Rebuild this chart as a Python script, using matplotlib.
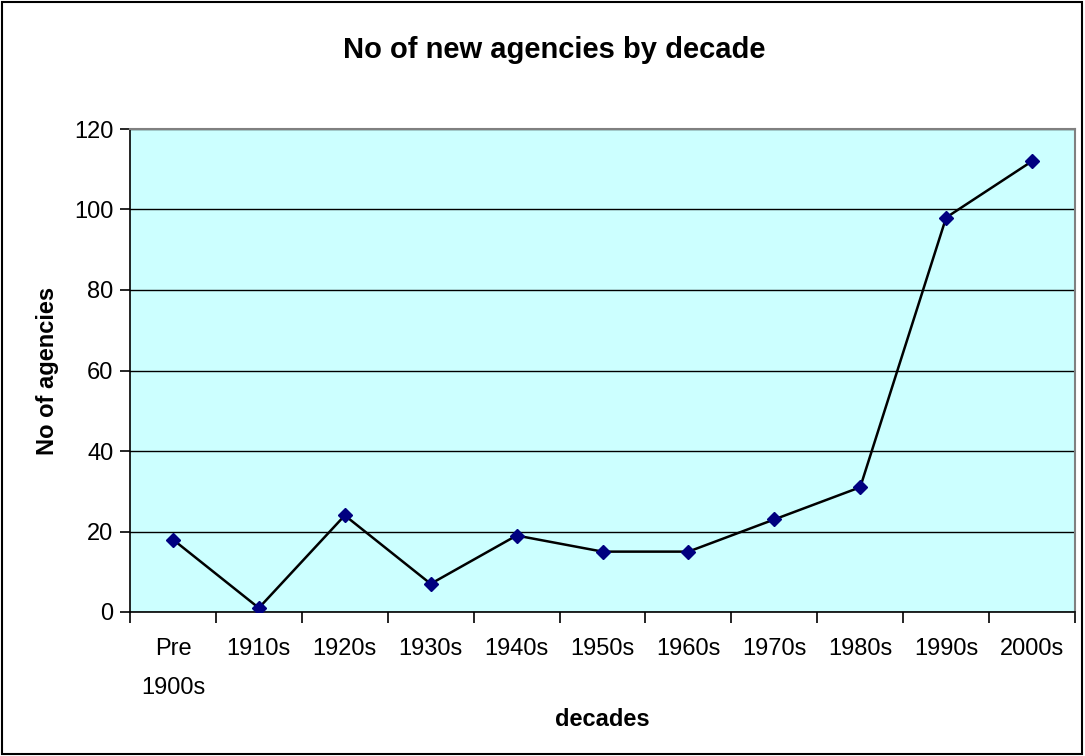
import matplotlib.pyplot as plt
import numpy as np

plt.rcParams['font.family'] = ['Liberation Sans', 'DejaVu Sans']

decades = ['Pre\n1900s', '1910s', '1920s', '1930s', '1940s', '1950s',
           '1960s', '1970s', '1980s', '1990s', '2000s']
agencies = [18, 1, 24, 7, 19, 15, 15, 23, 31, 98, 112]

fig = plt.figure(figsize=(10.85, 7.56), dpi=100)
ax = fig.add_axes([130 / 1085, 144 / 756, 945 / 1085, 483 / 756])
ax.set_facecolor('#CCFFFF')

x = np.arange(len(decades))
ax.plot(x, agencies, color='black', linewidth=1.8, zorder=3)
ax.plot(x, agencies, linestyle='none', marker='D', markersize=7.5,
        color='#000080', zorder=4)

ax.set_xlim(-0.5, len(decades) - 0.5)
ax.set_ylim(0, 120)
ax.set_yticks(np.arange(0, 121, 20))
ax.yaxis.grid(True, color='black', linewidth=1)
ax.set_axisbelow(True)

# category ticks between points, labels centred
ax.set_xticks(np.arange(-0.5, len(decades), 1))
ax.set_xticklabels([])
ax.set_xticks(x, minor=True)
ax.set_xticklabels(decades, minor=True, fontsize=17, linespacing=1.95)
ax.tick_params(axis='x', which='major', direction='out', length=8, width=1.2)
ax.tick_params(axis='x', which='minor', length=0, pad=19)
ax.tick_params(axis='y', direction='out', length=7, width=1.2, labelsize=17, pad=5)

for side in ['top', 'right']:
    ax.spines[side].set_color('#808080')
    ax.spines[side].set_linewidth(1.5)
for side in ['left', 'bottom']:
    ax.spines[side].set_color('black')
    ax.spines[side].set_linewidth(1.2)

ax.set_ylabel('No of agencies', fontsize=17, fontweight='bold')
ax.yaxis.set_label_coords(-0.075, 0.5)
ax.set_xlabel('decades', fontsize=17, fontweight='bold', va='center')
ax.xaxis.set_label_coords(0.5, -0.222)
fig.text(554 / 1085, 1 - 50 / 756, 'No of new agencies by decade',
         ha='center', va='center', fontsize=21, fontweight='bold')

# outer chart border
fig.patches.append(plt.Rectangle((0.002, 0.003), 0.995, 0.994, transform=fig.transFigure,
                                 fill=False, edgecolor='black', linewidth=1.5))

fig.savefig('out.png', dpi=100)
